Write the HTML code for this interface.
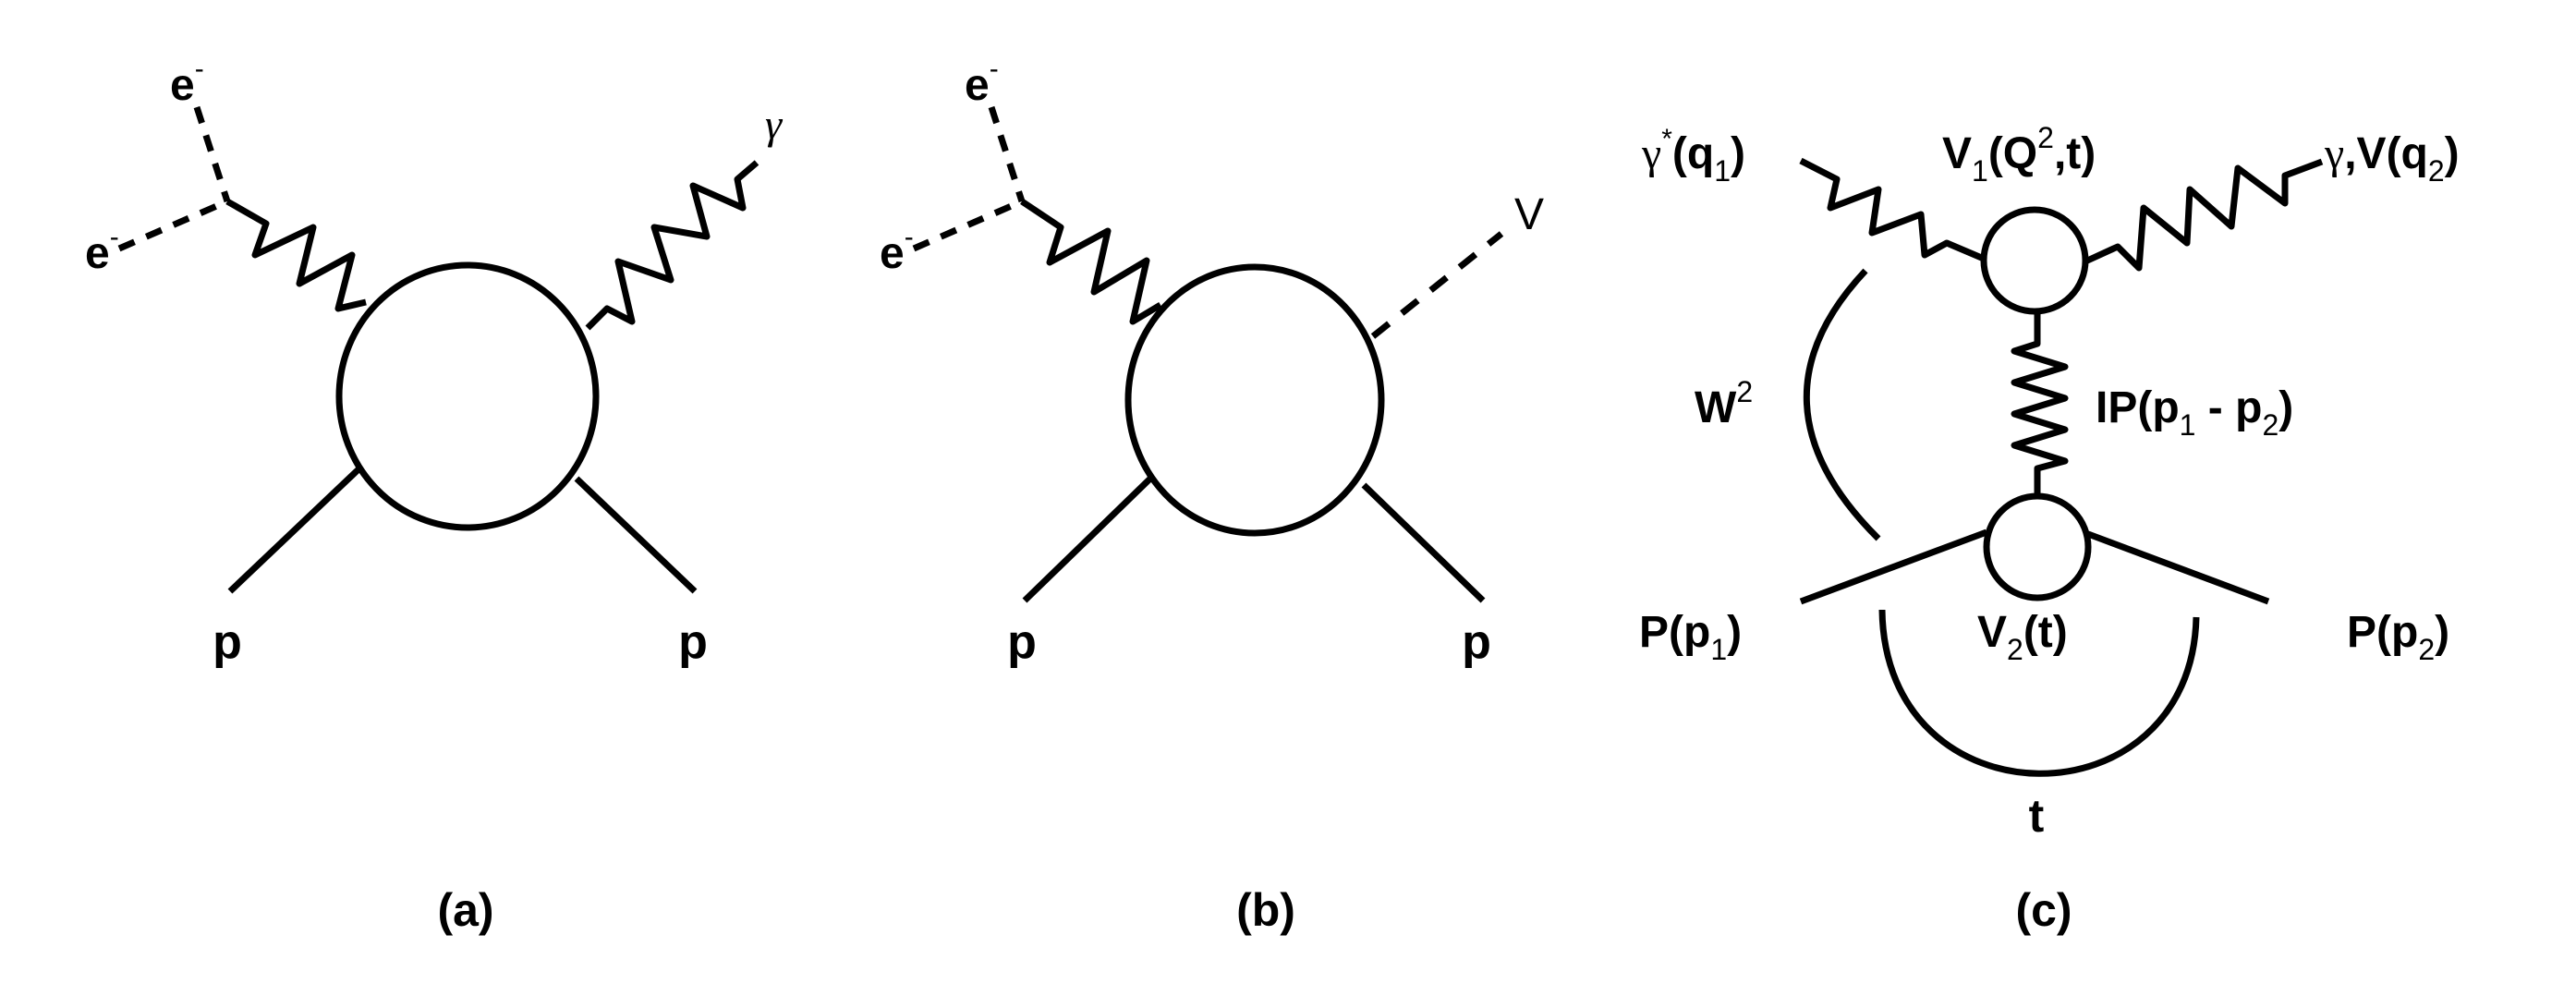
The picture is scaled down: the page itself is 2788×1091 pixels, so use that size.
<!DOCTYPE html>
<html><head><meta charset="utf-8"><style>
html,body{margin:0;padding:0;background:#fff}
svg{display:block}
text{font-family:"Liberation Sans",sans-serif;font-weight:bold;fill:#000}
.s{font-weight:normal}
</style></head><body>
<svg width="2788" height="1091" viewBox="0 0 2788 1091" xmlns="http://www.w3.org/2000/svg">
<g fill="none" stroke="#000" stroke-width="7" stroke-linejoin="round" stroke-linecap="butt">
<!-- (a) -->
<ellipse cx="506" cy="429" rx="139" ry="142"/>
<line x1="213" y1="116" x2="246" y2="218" stroke-dasharray="18,14"/>
<line x1="129" y1="269" x2="246" y2="218" stroke-dasharray="18,14"/>
<polyline points="246,218 288,242 276,276 339,246 324,307 381,276 366,334 396,327"/>
<polyline points="636,355 657,334 684,348 669,283 726,303 708,246 765,256 750,201 804,225 798,194 819,176"/>
<line x1="388" y1="508" x2="249" y2="640"/>
<line x1="624" y1="518" x2="752" y2="640"/>
<!-- (b) -->
<g transform="translate(860,0)">
<ellipse cx="498" cy="433" rx="137" ry="144"/>
<line x1="626" y1="364" x2="765" y2="253" stroke-dasharray="22,18"/>
<line x1="213" y1="116" x2="246" y2="218" stroke-dasharray="18,14"/>
<line x1="129" y1="269" x2="246" y2="218" stroke-dasharray="18,14"/>
<polyline points="246,218 288,246 276,284 339,250 324,316 381,282 366,348 396,330"/>
<line x1="388" y1="515" x2="249" y2="650"/>
<line x1="616" y1="525" x2="745" y2="650"/>
</g>
<!-- (c) -->
<circle cx="2202" cy="282" r="55"/>
<circle cx="2205" cy="592" r="55"/>
<polyline points="1949,174 1988,194 1981,225 2033,205 2026,252 2079,232 2083,276 2107,263 2147,280"/>
<polyline points="2257,283 2292,267 2315,290 2320,225 2367,263 2370,205 2415,245 2422,182 2473,220 2473,190 2513,175"/>
<polyline points="2205,337 2205,372 2180,380 2235,397 2180,414 2235,431 2180,448 2235,465 2180,482 2235,499 2205,507 2205,537"/>
<path d="M2019,293 Q1885,436 2033,583"/>
<path d="M2037,660 C2040,895 2372,895 2377,668"/>
<line x1="1949" y1="651" x2="2150" y2="576"/>
<line x1="2260" y1="578" x2="2455" y2="651"/>
</g>
<!-- labels (a) -->
<text x="184" y="108" font-size="48">e<tspan class="s" font-size="30" dy="-24">-</tspan></text>
<text x="92" y="290" font-size="48">e<tspan class="s" font-size="30" dy="-24">-</tspan></text>
<text x="828" y="150" font-size="46" font-style="italic" class="s" style="font-family:'Liberation Serif',serif;font-weight:normal">γ</text>
<text x="246" y="712" font-size="52" text-anchor="middle">p</text>
<text x="750" y="712" font-size="52" text-anchor="middle">p</text>
<text x="504" y="1002" font-size="50" text-anchor="middle">(a)</text>
<!-- labels (b) -->
<text x="1044" y="108" font-size="48">e<tspan class="s" font-size="30" dy="-24">-</tspan></text>
<text x="952" y="290" font-size="48">e<tspan class="s" font-size="30" dy="-24">-</tspan></text>
<text x="1655" y="248" font-size="48" text-anchor="middle" class="s">V</text>
<text x="1106" y="712" font-size="52" text-anchor="middle">p</text>
<text x="1598" y="712" font-size="52" text-anchor="middle">p</text>
<text x="1370" y="1002" font-size="50" text-anchor="middle">(b)</text>
<!-- labels (c) -->
<text x="1777" y="182" font-size="48"><tspan class="s" style="font-family:'Liberation Serif',serif">γ</tspan><tspan class="s" font-size="30" dy="-22">*</tspan><tspan dy="22">(q</tspan><tspan class="s" font-size="32" dy="14">1</tspan><tspan dy="-14">)</tspan></text>
<text x="2102" y="182" font-size="48">V<tspan class="s" font-size="32" dy="14">1</tspan><tspan dy="-14">(Q</tspan><tspan class="s" font-size="32" dy="-22">2</tspan><tspan dy="22">,t)</tspan></text>
<text x="2516" y="182" font-size="48"><tspan class="s" style="font-family:'Liberation Serif',serif">γ</tspan>,V(q<tspan class="s" font-size="32" dy="14">2</tspan><tspan dy="-14">)</tspan></text>
<text x="1834" y="457" font-size="48">W<tspan class="s" font-size="32" dy="-22">2</tspan></text>
<text x="2268" y="457" font-size="48">IP(p<tspan class="s" font-size="32" dy="14">1</tspan><tspan dy="-14"> - p</tspan><tspan class="s" font-size="32" dy="14">2</tspan><tspan dy="-14">)</tspan></text>
<text x="1774" y="700" font-size="48">P(p<tspan class="s" font-size="32" dy="14">1</tspan><tspan dy="-14">)</tspan></text>
<text x="2140" y="700" font-size="48">V<tspan class="s" font-size="32" dy="14">2</tspan><tspan dy="-14">(t)</tspan></text>
<text x="2540" y="700" font-size="48">P(p<tspan class="s" font-size="32" dy="14">2</tspan><tspan dy="-14">)</tspan></text>
<text x="2204" y="900" font-size="50" text-anchor="middle">t</text>
<text x="2212" y="1002" font-size="50" text-anchor="middle">(c)</text>
</svg>
</body></html>
